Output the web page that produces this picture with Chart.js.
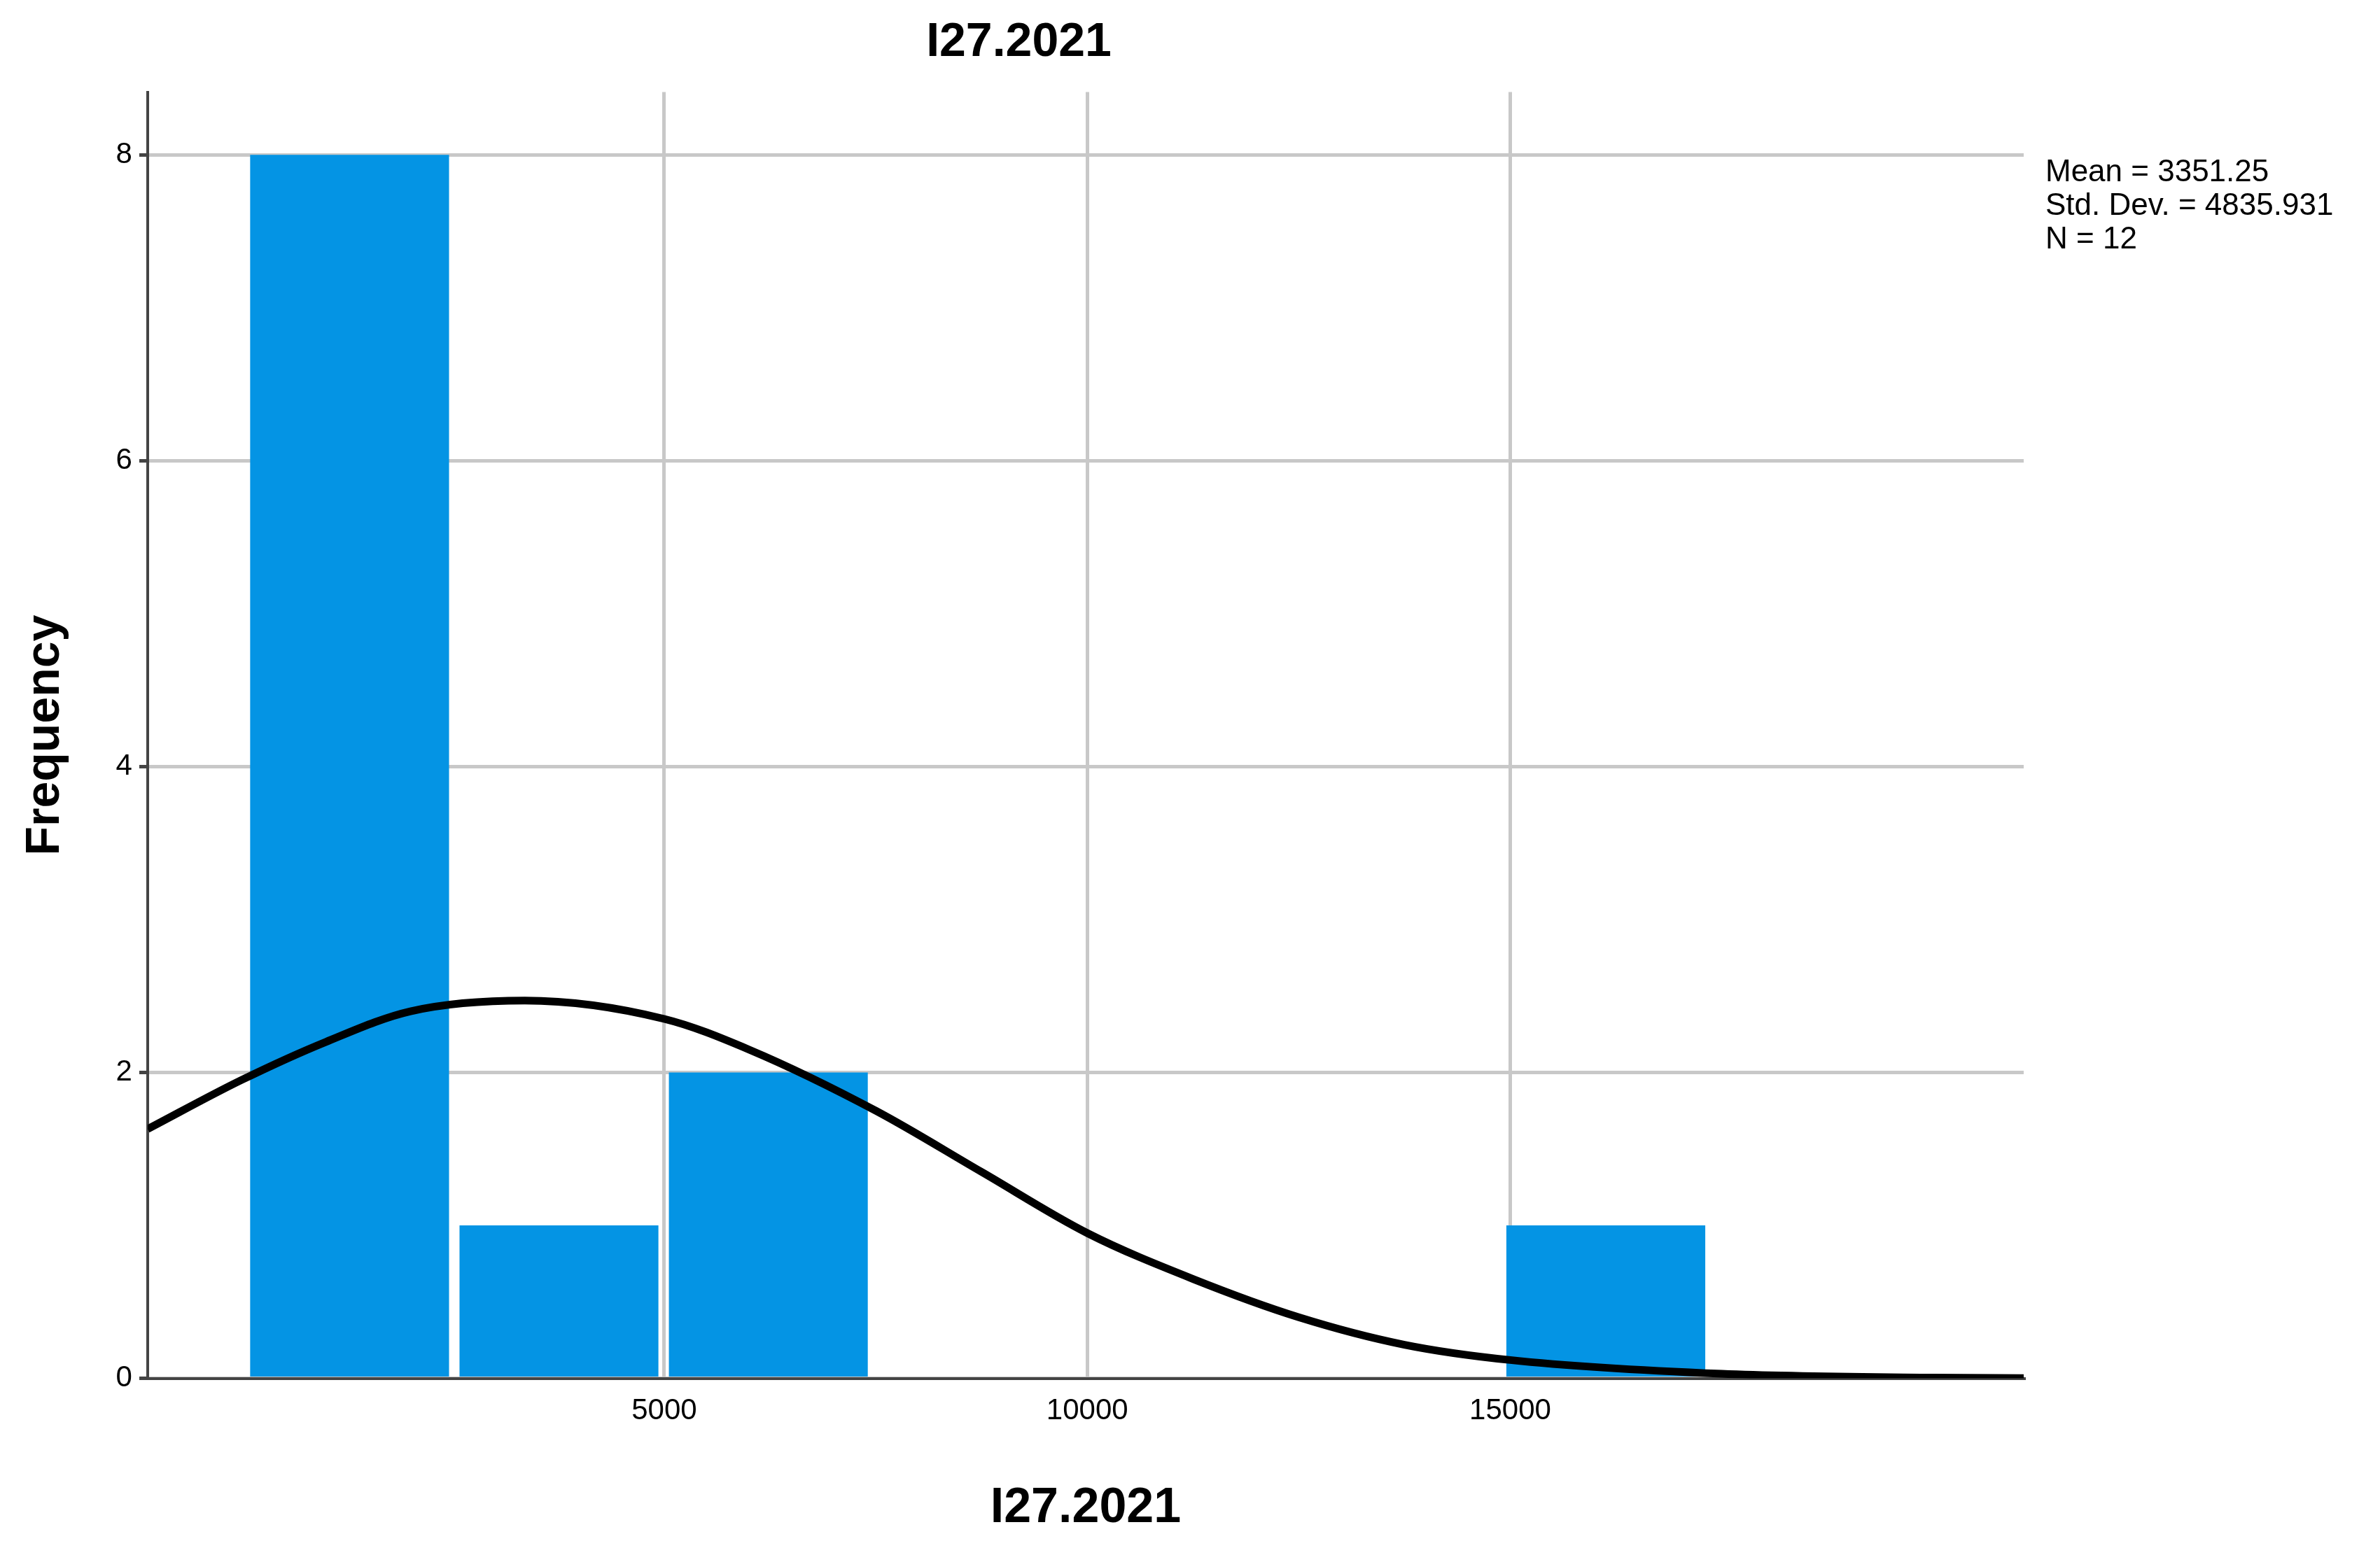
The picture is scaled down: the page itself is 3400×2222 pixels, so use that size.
<!DOCTYPE html>
<html>
<head>
<meta charset="utf-8">
<script src="https://cdn.jsdelivr.net/npm/chart.js@4/dist/chart.umd.min.js"></script>
<style>
  body { margin: 0; background: #fff; }
  #wrap { width: 3400px; height: 2222px; }
</style>
</head>
<body>
<div id="wrap"><canvas id="hist"></canvas></div>
<script>
// histogram bins (centres) and counts
const binCentres = [1280, 3755, 6230, 8705, 11180, 13655, 16130];
const counts = [8, 1, 2, 0, 0, 0, 1];
// normal curve
const curveX = [-1107, 0, 1000, 2000, 3351, 5000, 6000, 7500, 8750, 10000, 11250, 12500, 13750, 15000, 17500, 20000, 21070];
const curveY = [1.63, 1.95, 2.2, 2.4, 2.47, 2.35, 2.15, 1.75, 1.35, 0.95, 0.65, 0.4, 0.22, 0.12, 0.03, 0.005, 0.002];
const statLines = ['Mean = 3351.25', 'Std. Dev. = 4835.931', 'N = 12'];
const titleText = 'I27.2021';

const statsPlugin = {
  id: 'stats',
  afterDraw(chart) {
    const c = chart.ctx;
    c.save();
    c.fillStyle = '#000';
    c.font = '44px Arial, "Liberation Sans"';
    c.textBaseline = 'top';
    statLines.forEach((t, i) => c.fillText(t, 2922, 225 + i * 48));
    c.restore();
  }
};

const keep = step => axis => {
  axis.ticks = axis.ticks.filter(t => Math.abs(t.value / step - Math.round(t.value / step)) < 1e-6);
};

new Chart(document.getElementById('hist'), {
  type: 'bar',
  data: {
    datasets: [{
      type: 'line',
      data: curveX.map((x, i) => ({x: x, y: curveY[i]})),
      borderColor: '#000',
      borderWidth: 11,
      pointRadius: 0,
      cubicInterpolationMode: 'monotone',
      order: 0
    }, {
      data: binCentres.map((x, i) => ({x: x, y: counts[i]})),
      backgroundColor: '#0494E4',
      barPercentage: 0.95,
      categoryPercentage: 1,
      order: 1
    }]
  },
  options: {
    responsive: true,
    maintainAspectRatio: false,
    animation: false,
    layout: { padding: { left: 20, right: 509, top: 20, bottom: 20 } },
    plugins: {
      legend: { display: false },
      tooltip: { enabled: false },
      title: {
        display: true, text: titleText, color: '#000',
        font: { family: 'Arial, "Liberation Sans"', size: 68, weight: 'bold' },
        padding: { top: 0, bottom: 30 }
      }
    },
    scales: {
      x: {
        type: 'linear', min: -1107, max: 21070, offset: false,
        afterBuildTicks: keep(5000),
        grid: { color: '#c8c8c8', lineWidth: 5, drawTicks: false, offset: false },
        border: { color: '#444', width: 4 },
        ticks: {
          color: '#000', font: { family: 'Arial, "Liberation Sans"', size: 42 }, padding: 22,
          autoSkip: false, maxRotation: 0, callback: v => String(v)
        },
        title: {
          display: true, text: titleText, color: '#000',
          font: { family: 'Arial, "Liberation Sans"', size: 70, weight: 'bold' },
          padding: { top: 50 }
        }
      },
      y: {
        min: 0, max: 8.41,
        afterBuildTicks: keep(2),
        grid: { color: '#c8c8c8', lineWidth: 5, drawTicks: true, tickLength: 12, tickColor: '#444' },
        border: { color: '#444', width: 4 },
        ticks: { color: '#000', font: { family: 'Arial, "Liberation Sans"', size: 42 }, padding: 10 },
        title: {
          display: true, text: 'Frequency', color: '#000',
          font: { family: 'Arial, "Liberation Sans"', size: 68, weight: 'bold' },
          padding: { bottom: 50 }
        }
      }
    }
  },
  plugins: [statsPlugin]
});
</script>
</body>
</html>
